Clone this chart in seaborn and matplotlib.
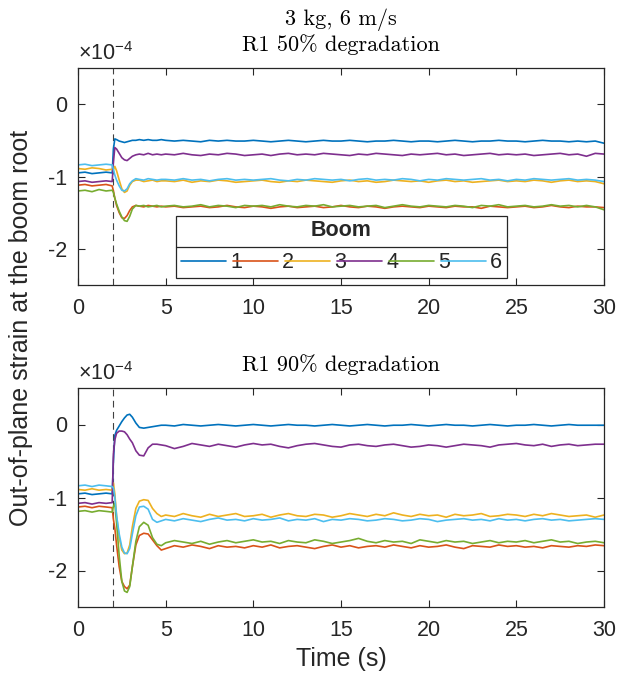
import numpy as np
import pandas as pd
import matplotlib
matplotlib.use("Agg")
import matplotlib.pyplot as plt
from matplotlib.lines import Line2D
import seaborn as sns

# ---------------- data (strain in units of 1e-4) ----------------
PRE_T = [0, 0.4, 0.8, 1.2, 1.6, 1.95]
TRANS_T = [2.02, 2.1, 2.2, 2.35, 2.5, 2.65, 2.8, 2.95, 3.1, 3.3, 3.5, 3.75, 4.0, 4.25, 4.5, 4.75]
SS_T = [5.0 + 0.5 * i for i in range(51)]
TIME = PRE_T + TRANS_T + SS_T

BOOMS = ["1", "2", "3", "4", "5", "6"]
COLORS = ["#0072BD", "#D95319", "#EDB120", "#7E2F8E", "#77AC30", "#4DBEEE"]

# ---- R1 50% degradation ----
d50_b1 = ([-0.95, -0.94, -0.96, -0.95, -0.94, -0.95] +
          [-0.62, -0.48, -0.49, -0.51, -0.52, -0.53, -0.52, -0.51, -0.50, -0.50, -0.49, -0.50, -0.49, -0.50, -0.50, -0.49] +
          [-0.50, -0.51, -0.50, -0.51, -0.52, -0.50, -0.51, -0.50, -0.51, -0.51,
           -0.50, -0.51, -0.52, -0.51, -0.50, -0.51, -0.52, -0.51, -0.50, -0.51,
           -0.51, -0.50, -0.51, -0.52, -0.51, -0.51, -0.50, -0.51, -0.52, -0.51,
           -0.51, -0.52, -0.51, -0.50, -0.51, -0.52, -0.51, -0.51, -0.50, -0.51,
           -0.51, -0.52, -0.51, -0.50, -0.51, -0.51, -0.52, -0.51, -0.52, -0.51,
           -0.54])
d50_b2 = ([-1.12, -1.11, -1.13, -1.12, -1.11, -1.13] +
          [-1.20, -1.30, -1.40, -1.50, -1.57, -1.58, -1.54, -1.47, -1.42, -1.40, -1.41, -1.42, -1.40, -1.41, -1.42, -1.41] +
          [-1.42, -1.41, -1.43, -1.42, -1.41, -1.43, -1.42, -1.40, -1.42, -1.43,
           -1.41, -1.42, -1.44, -1.42, -1.41, -1.43, -1.42, -1.41, -1.43, -1.42,
           -1.40, -1.42, -1.43, -1.41, -1.42, -1.44, -1.42, -1.41, -1.42, -1.43,
           -1.41, -1.42, -1.43, -1.41, -1.42, -1.42, -1.44, -1.41, -1.42, -1.43,
           -1.42, -1.41, -1.43, -1.42, -1.40, -1.42, -1.43, -1.41, -1.42, -1.42,
           -1.43])
d50_b3 = ([-0.89, -0.90, -0.88, -0.89, -0.91, -0.90] +
          [-0.90, -0.86, -0.92, -1.05, -1.17, -1.22, -1.20, -1.12, -1.07, -1.05, -1.05, -1.07, -1.06, -1.05, -1.07, -1.06] +
          [-1.06, -1.07, -1.05, -1.08, -1.06, -1.07, -1.05, -1.06, -1.08, -1.07,
           -1.06, -1.05, -1.07, -1.08, -1.06, -1.07, -1.05, -1.06, -1.07, -1.08,
           -1.06, -1.05, -1.07, -1.06, -1.08, -1.07, -1.05, -1.06, -1.07, -1.06,
           -1.08, -1.06, -1.05, -1.07, -1.06, -1.08, -1.07, -1.06, -1.05, -1.07,
           -1.06, -1.07, -1.05, -1.06, -1.08, -1.06, -1.05, -1.07, -1.06, -1.07,
           -1.10])
d50_b4 = ([-1.07, -1.06, -1.08, -1.07, -1.06, -1.07] +
          [-0.80, -0.60, -0.62, -0.68, -0.74, -0.77, -0.78, -0.75, -0.72, -0.70, -0.69, -0.70, -0.68, -0.70, -0.69, -0.70] +
          [-0.69, -0.70, -0.68, -0.70, -0.71, -0.69, -0.70, -0.68, -0.69, -0.71,
           -0.70, -0.69, -0.71, -0.69, -0.68, -0.70, -0.69, -0.70, -0.68, -0.69,
           -0.70, -0.71, -0.69, -0.70, -0.68, -0.69, -0.70, -0.71, -0.69, -0.70,
           -0.69, -0.68, -0.70, -0.69, -0.71, -0.70, -0.69, -0.68, -0.70, -0.69,
           -0.70, -0.69, -0.71, -0.70, -0.69, -0.68, -0.70, -0.69, -0.72, -0.68,
           -0.69])
d50_b5 = ([-1.20, -1.19, -1.21, -1.18, -1.20, -1.19] +
          [-1.22, -1.30, -1.38, -1.48, -1.56, -1.61, -1.62, -1.55, -1.45, -1.40, -1.41, -1.40, -1.42, -1.41, -1.40, -1.42] +
          [-1.41, -1.40, -1.42, -1.41, -1.39, -1.42, -1.40, -1.41, -1.43, -1.40,
           -1.41, -1.40, -1.42, -1.39, -1.41, -1.42, -1.40, -1.41, -1.39, -1.42,
           -1.41, -1.40, -1.42, -1.41, -1.40, -1.43, -1.41, -1.39, -1.41, -1.42,
           -1.40, -1.41, -1.42, -1.40, -1.41, -1.43, -1.40, -1.41, -1.39, -1.42,
           -1.41, -1.40, -1.42, -1.41, -1.39, -1.41, -1.40, -1.42, -1.40, -1.42,
           -1.46])
d50_b6 = ([-0.84, -0.83, -0.85, -0.84, -0.83, -0.84] +
          [-0.90, -0.98, -1.05, -1.13, -1.19, -1.20, -1.17, -1.10, -1.06, -1.03, -1.04, -1.05, -1.03, -1.04, -1.05, -1.04] +
          [-1.04, -1.05, -1.03, -1.05, -1.04, -1.06, -1.04, -1.03, -1.05, -1.04,
           -1.05, -1.04, -1.03, -1.05, -1.06, -1.04, -1.05, -1.03, -1.04, -1.05,
           -1.04, -1.06, -1.04, -1.03, -1.05, -1.04, -1.05, -1.03, -1.04, -1.06,
           -1.04, -1.05, -1.03, -1.04, -1.05, -1.04, -1.03, -1.05, -1.04, -1.06,
           -1.04, -1.05, -1.03, -1.04, -1.05, -1.04, -1.03, -1.05, -1.04, -1.05,
           -1.07])

# ---- R1 90% degradation ----
d90_b1 = ([-0.95, -0.94, -0.96, -0.95, -0.94, -0.95] +
          [-0.50, -0.15, -0.08, -0.02, 0.04, 0.09, 0.13, 0.14, 0.10, 0.02, -0.04, -0.05, -0.04, -0.03, -0.02, -0.01] +
          [-0.01, -0.02, 0.00, -0.01, -0.02, -0.01, 0.00, -0.01, -0.02, -0.01,
           0.00, -0.01, -0.02, -0.01, 0.00, -0.01, -0.01, -0.02, -0.01, 0.00,
           -0.01, -0.02, -0.01, 0.00, -0.01, -0.02, -0.01, -0.01, 0.00, -0.01,
           -0.02, -0.01, 0.00, -0.01, -0.01, -0.02, -0.01, 0.00, -0.01, -0.02,
           -0.01, -0.01, 0.00, -0.01, -0.02, -0.01, 0.00, -0.01, -0.01, -0.01,
           -0.01])
d90_b2 = ([-1.13, -1.12, -1.14, -1.12, -1.13, -1.14] +
          [-1.30, -1.42, -1.65, -1.95, -2.15, -2.22, -2.25, -2.20, -1.95, -1.65, -1.52, -1.49, -1.50, -1.58, -1.66, -1.72] +
          [-1.70, -1.66, -1.68, -1.65, -1.67, -1.70, -1.66, -1.68, -1.67, -1.69,
           -1.66, -1.68, -1.65, -1.69, -1.67, -1.66, -1.68, -1.70, -1.67, -1.65,
           -1.68, -1.66, -1.69, -1.67, -1.66, -1.68, -1.65, -1.67, -1.69, -1.66,
           -1.68, -1.67, -1.65, -1.68, -1.70, -1.66, -1.67, -1.68, -1.65, -1.67,
           -1.66, -1.68, -1.67, -1.69, -1.66, -1.67, -1.68, -1.66, -1.67, -1.65,
           -1.66])
d90_b3 = ([-0.89, -0.90, -0.88, -0.90, -0.89, -0.90] +
          [-0.80, -0.95, -1.25, -1.55, -1.72, -1.77, -1.76, -1.65, -1.40, -1.15, -1.05, -1.03, -1.04, -1.15, -1.22, -1.26] +
          [-1.24, -1.26, -1.22, -1.25, -1.27, -1.23, -1.26, -1.24, -1.22, -1.26,
           -1.25, -1.23, -1.27, -1.24, -1.22, -1.25, -1.26, -1.23, -1.24, -1.27,
           -1.25, -1.22, -1.24, -1.26, -1.23, -1.25, -1.21, -1.24, -1.26, -1.23,
           -1.25, -1.24, -1.27, -1.23, -1.25, -1.24, -1.22, -1.26, -1.25, -1.23,
           -1.24, -1.26, -1.23, -1.25, -1.22, -1.24, -1.26, -1.25, -1.24, -1.27,
           -1.24])
d90_b4 = ([-1.08, -1.07, -1.09, -1.07, -1.08, -1.07] +
          [-0.40, -0.21, -0.12, -0.09, -0.09, -0.10, -0.14, -0.20, -0.25, -0.36, -0.42, -0.43, -0.32, -0.27, -0.27, -0.28] +
          [-0.29, -0.33, -0.30, -0.26, -0.28, -0.30, -0.27, -0.29, -0.31, -0.28,
           -0.26, -0.28, -0.27, -0.30, -0.32, -0.29, -0.27, -0.26, -0.28, -0.30,
           -0.31, -0.28, -0.27, -0.29, -0.30, -0.28, -0.27, -0.29, -0.31, -0.30,
           -0.28, -0.29, -0.31, -0.29, -0.27, -0.28, -0.29, -0.31, -0.28, -0.27,
           -0.26, -0.28, -0.29, -0.27, -0.30, -0.28, -0.27, -0.29, -0.28, -0.27,
           -0.27])
d90_b5 = ([-1.19, -1.18, -1.20, -1.18, -1.19, -1.20] +
          [-1.12, -1.08, -1.35, -1.80, -2.15, -2.28, -2.30, -2.22, -1.95, -1.60, -1.40, -1.34, -1.38, -1.55, -1.64, -1.66] +
          [-1.62, -1.59, -1.61, -1.63, -1.60, -1.64, -1.61, -1.59, -1.62, -1.60,
           -1.58, -1.61, -1.60, -1.63, -1.59, -1.61, -1.62, -1.58, -1.60, -1.63,
           -1.61, -1.59, -1.56, -1.60, -1.62, -1.59, -1.61, -1.60, -1.63, -1.58,
           -1.60, -1.62, -1.59, -1.61, -1.60, -1.63, -1.61, -1.59, -1.62, -1.60,
           -1.61, -1.59, -1.62, -1.60, -1.58, -1.61, -1.60, -1.63, -1.61, -1.60,
           -1.62])
d90_b6 = ([-0.84, -0.83, -0.85, -0.83, -0.84, -0.85] +
          [-0.87, -1.00, -1.25, -1.50, -1.68, -1.76, -1.77, -1.70, -1.50, -1.25, -1.13, -1.12, -1.16, -1.30, -1.34, -1.32] +
          [-1.30, -1.32, -1.29, -1.31, -1.33, -1.30, -1.28, -1.31, -1.30, -1.32,
           -1.29, -1.31, -1.30, -1.28, -1.32, -1.30, -1.31, -1.29, -1.33, -1.30,
           -1.31, -1.29, -1.30, -1.32, -1.31, -1.29, -1.30, -1.32, -1.31, -1.29,
           -1.30, -1.33, -1.31, -1.30, -1.29, -1.31, -1.30, -1.32, -1.29, -1.31,
           -1.30, -1.32, -1.30, -1.29, -1.31, -1.30, -1.32, -1.31, -1.30, -1.29,
           -1.30])

SERIES_50 = [d50_b1, d50_b2, d50_b3, d50_b4, d50_b5, d50_b6]
SERIES_90 = [d90_b1, d90_b2, d90_b3, d90_b4, d90_b5, d90_b6]
TITLES = ["3 kg, 6 m/s\nR1 50% degradation", "R1 90% degradation"]
XTICKS = [0, 5, 10, 15, 20, 25, 30]
YTICKS = [-2, -1, 0]


def to_long(series_list):
    rows = []
    for name, vals in zip(BOOMS, series_list):
        for t, v in zip(TIME, vals):
            rows.append((t, v, name))
    return pd.DataFrame(rows, columns=["t", "strain", "boom"])


# ---------------- style ----------------
sns.set_style("ticks")
plt.rcParams["font.family"] = ["Liberation Sans", "DejaVu Sans"]
plt.rcParams["mathtext.fontset"] = "custom"
plt.rcParams["mathtext.rm"] = "Liberation Sans"
plt.rcParams["mathtext.it"] = "Liberation Sans"
plt.rcParams["axes.unicode_minus"] = False
AX_COLOR = "#262626"
FS = 15.5
LFS = 18

fig = plt.figure(figsize=(6.21, 6.77), dpi=100)
W, H = 621.0, 677.0
ax_top = fig.add_axes([78 / W, 1 - 285 / H, 526 / W, 217 / H])
ax_bot = fig.add_axes([78 / W, 1 - 607 / H, 526 / W, 219 / H])

palette = dict(zip(BOOMS, COLORS))
for ax, series, title in zip([ax_top, ax_bot], [SERIES_50, SERIES_90], TITLES):
    df = to_long(series)
    sns.lineplot(data=df, x="t", y="strain", hue="boom", palette=palette,
                 hue_order=BOOMS, lw=1.2, ax=ax, legend=(ax is ax_top),
                 estimator=None, sort=False)
    ax.axvline(2, color="#404040", lw=0.8, ls=(0, (6, 4)), zorder=0.5)
    ax.set_xlim(0, 30)
    ax.set_ylim(-2.5, 0.5)
    ax.set_xticks(XTICKS)
    ax.set_yticks(YTICKS)
    ax.set_xlabel("")
    ax.set_ylabel("")
    ax.tick_params(direction="in", length=5, width=0.8, color=AX_COLOR,
                   labelsize=FS, labelcolor="#262626", top=True, right=True)
    ax.tick_params(axis="x", pad=9)
    ax.tick_params(axis="y", pad=8)
    for sp in ax.spines.values():
        sp.set_visible(True)
        sp.set_color(AX_COLOR)
        sp.set_linewidth(0.9)
    ax.set_title(title, fontfamily="cmr10", fontsize=16, pad=12, linespacing=1.2,
                 color="black")
    ax.text(0.0, 1.012, r"$\times10^{-4}$", transform=ax.transAxes, ha="left",
            va="bottom", fontsize=FS, color="#262626")

ax_bot.set_xlabel("Time (s)", fontsize=LFS, color="#262626", labelpad=5)
fig.text(21 / W, 1 - 328 / H, "Out-of-plane strain at the boom root",
         rotation=90, ha="center", va="center", fontsize=LFS, color="#262626")

handles, labels = ax_top.get_legend_handles_labels()
leg = ax_top.legend(handles, labels, title="Boom", ncol=6, loc="lower left",
                    bbox_to_anchor=(98 / 526, 7 / 217, 331 / 526, 0.3),
                    mode="expand", borderaxespad=0, fontsize=FS,
                    handlelength=2.1, handletextpad=0.2, columnspacing=0.6,
                    borderpad=0.22, fancybox=False, framealpha=1,
                    edgecolor=AX_COLOR)
leg.get_title().set_fontweight("bold")
leg.get_title().set_fontsize(FS)
leg.get_frame().set_linewidth(0.9)
for lh in leg.get_lines():
    lh.set_linewidth(1.2)

fig.canvas.draw()
r = fig.canvas.get_renderer()
lb = leg.get_window_extent(r)
tb = leg.get_title().get_window_extent(r)
hb = leg._legend_handle_box.get_window_extent(r)
ydiv = (tb.y0 + hb.y1) / 2.0
fig.add_artist(Line2D([lb.x0 / W, lb.x1 / W], [ydiv / H, ydiv / H],
                      transform=fig.transFigure, color=AX_COLOR, lw=0.9))

fig.savefig("out.png", dpi=100)
